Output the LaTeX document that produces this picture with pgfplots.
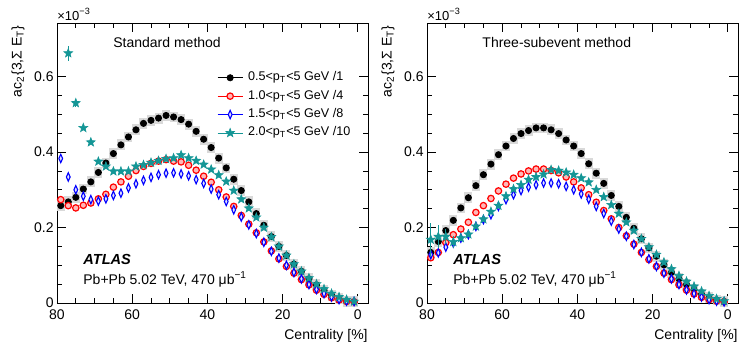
\documentclass[border=0pt]{standalone}
\usepackage{pgfplots}
\pgfplotsset{compat=1.18}
\usepackage{pgfplotstable}
\usepackage{fontspec}
\setmainfont{Liberation Sans}
\usetikzlibrary{plotmarks}

\definecolor{atlcyan}{RGB}{20,150,150}

% filled five-pointed star (ROOT marker 29)
\pgfdeclareplotmark{fstar}{%
  \pgfpathmoveto{\pgfpointpolar{90}{\pgfplotmarksize}}%
  \pgfpathlineto{\pgfpointpolar{126}{0.42\pgfplotmarksize}}%
  \pgfpathlineto{\pgfpointpolar{162}{\pgfplotmarksize}}%
  \pgfpathlineto{\pgfpointpolar{198}{0.42\pgfplotmarksize}}%
  \pgfpathlineto{\pgfpointpolar{234}{\pgfplotmarksize}}%
  \pgfpathlineto{\pgfpointpolar{270}{0.42\pgfplotmarksize}}%
  \pgfpathlineto{\pgfpointpolar{306}{\pgfplotmarksize}}%
  \pgfpathlineto{\pgfpointpolar{342}{0.42\pgfplotmarksize}}%
  \pgfpathlineto{\pgfpointpolar{18}{\pgfplotmarksize}}%
  \pgfpathlineto{\pgfpointpolar{54}{0.42\pgfplotmarksize}}%
  \pgfpathclose
  \pgfusepathqfillstroke}

% standard method
\pgfplotstableread{
c   blk   red   blu   cyn   ecyn
79  0.258 0.274 0.383 nan   0
77  0.268 0.258 0.334 0.662 0.02
75  0.280 0.252 0.300 0.530 0.01
73  0.302 0.259 0.283 0.464 0
71  0.321 0.265 0.274 0.426 0
69  0.346 0.276 0.270 0.375 0
67  0.371 0.288 0.276 0.362 0
65  0.396 0.307 0.285 0.349 0
63  0.419 0.321 0.291 0.349 0
61  0.440 0.336 0.305 0.349 0
59  0.459 0.351 0.316 0.362 0
57  0.476 0.362 0.325 0.366 0
55  0.484 0.370 0.333 0.372 0
53  0.490 0.376 0.340 0.377 0
51  0.497 0.380 0.344 0.382 0
49  0.493 0.376 0.345 0.384 0
47  0.486 0.374 0.342 0.392 0
45  0.474 0.365 0.337 0.384 0
43  0.455 0.352 0.327 0.377 0
41  0.434 0.336 0.317 0.367 0
39  0.412 0.320 0.302 0.354 0
37  0.384 0.300 0.287 0.339 0
35  0.358 0.281 0.269 0.322 0
33  0.328 0.256 0.247 0.298 0
31  0.298 0.232 0.228 0.275 0
29  0.268 0.209 0.207 0.251 0
27  0.237 0.186 0.184 0.227 0
25  0.206 0.162 0.161 0.200 0
23  0.176 0.138 0.137 0.175 0
21  0.150 0.117 0.119 0.150 0
19  0.126 0.097 0.100 0.126 0
17  0.103 0.079 0.081 0.103 0
15  0.084 0.062 0.064 0.084 0
13  0.064 0.048 0.049 0.066 0
11  0.048 0.034 0.036 0.050 0
9   0.033 0.023 0.025 0.037 0
7   0.020 0.014 0.016 0.025 0
5   0.011 0.008 0.009 0.016 0
3   0.005 0.004 0.005 0.009 0
1   0.003 0.003 0.004 0.004 0
}\stdtab

% three-subevent method
\pgfplotstableread{
c   blk   red   blu   cyn   ecyn
79  0.134 0.120 0.128 0.168 0.045
77  0.163 0.134 0.133 0.176 0.030
75  0.192 0.160 0.148 0.176 0.020
73  0.219 0.181 0.159 0.162 0.015
71  0.252 0.196 0.172 0.172 0.008
69  0.279 0.214 0.181 0.182 0
67  0.311 0.240 0.203 0.203 0
65  0.340 0.258 0.221 0.222 0
63  0.368 0.277 0.234 0.242 0
61  0.393 0.297 0.256 0.258 0
59  0.416 0.315 0.274 0.283 0
57  0.436 0.331 0.287 0.302 0
55  0.449 0.342 0.298 0.313 0
53  0.457 0.350 0.307 0.327 0
51  0.464 0.355 0.313 0.334 0
49  0.464 0.355 0.318 0.341 0
47  0.459 0.351 0.318 0.353 0
45  0.449 0.345 0.316 0.351 0
43  0.432 0.334 0.309 0.346 0
41  0.416 0.321 0.300 0.340 0
39  0.396 0.305 0.289 0.331 0
37  0.369 0.287 0.275 0.320 0
35  0.344 0.267 0.256 0.300 0
33  0.317 0.245 0.237 0.281 0
31  0.285 0.223 0.217 0.260 0
29  0.256 0.200 0.196 0.237 0
27  0.227 0.178 0.177 0.214 0
25  0.198 0.156 0.155 0.192 0
23  0.170 0.134 0.134 0.170 0
21  0.146 0.115 0.117 0.148 0
19  0.124 0.097 0.097 0.128 0
17  0.101 0.079 0.079 0.108 0
15  0.081 0.062 0.064 0.090 0
13  0.064 0.048 0.049 0.072 0
11  0.049 0.034 0.035 0.057 0
9   0.035 0.024 0.025 0.044 0
7   0.023 0.015 0.016 0.031 0
5   0.014 0.009 0.009 0.019 0
3   0.008 0.005 0.005 0.011 0
1   0.004 0.003 0.003 0.005 0
}\subtab

\pgfplotsset{
  atlasax/.style={
    width=155.5pt, height=140pt, scale only axis,
    x dir=reverse, xmin=-2.7, xmax=80, ymin=0, ymax=0.742,
    xtick={0,20,40,60,80}, minor x tick num=3,
    ytick={0,0.2,0.4,0.6}, minor y tick num=3,
    tick align=inside, major tick length=4.5pt, minor tick length=2.5pt,
    tick style={black, line width=0.4pt},
    /pgf/number format/assume math mode=true,
    tick label style={font=\fontsize{7}{8}\selectfont},
    yticklabel style={inner xsep=1.5pt},
    xlabel={Centrality [\%]},
    xlabel style={at={(axis description cs:1,0)}, anchor=north east,
      inner sep=0pt, yshift=-13pt, font=\fontsize{7}{8}\selectfont},
    ylabel={ac\textsubscript{2}\{3,Σ E\textsubscript{T}\}},
    ylabel style={at={(axis description cs:-0.103,0.992)}, anchor=south east,
      inner sep=0pt, font=\fontsize{7}{8}\selectfont},
    clip mode=individual,
    legend image code/.code={\draw[#1, sharp plot, mark repeat=2, mark phase=2]
      plot coordinates {(0pt,0pt) (6.25pt,0pt) (12.5pt,0pt)};},
  },
  sysbox/.style={only marks, mark=square*, mark size=1.75pt, color=gray!30,
    mark options={draw=gray!30, fill=gray!30, line width=0pt, yscale=1.4}, forget plot},
  blkser/.style={only marks, color=black, mark=*, mark size=1.55pt},
  redser/.style={only marks, color=red, mark=*, mark size=1.6pt,
    mark options={draw=red, fill=red!28, line width=0.6pt}},
  bluser/.style={only marks, color=blue, mark=diamond*, mark size=2.1pt,
    mark options={draw=blue, fill=blue!12, line width=0.55pt, xscale=0.6}},
  cynser/.style={only marks, color=atlcyan, mark=fstar, mark size=2.3pt,
    mark options={draw=atlcyan, fill=atlcyan, line width=0.3pt},
    error bars/.cd, y dir=both, y explicit, error mark=none,
    error bar style={atlcyan, line width=0.5pt}},
}

\begin{document}
\begin{tikzpicture}
\path[use as bounding box] (-28.5pt,-23pt) rectangle (345pt,151.5pt);

\begin{axis}[atlasax, name=L, at={(0pt,0pt)},
    legend style={at={(axis description cs:0.514,0.838)}, anchor=north west,
      draw=none, fill=none, inner sep=0pt, row sep=0.2pt,
      font=\fontsize{6.3}{7.5}\selectfont,
      nodes={inner sep=1pt, text height=5pt, text depth=2pt}},
    legend cell align=left]
  \addplot[sysbox] table[x=c, y=blk] {\stdtab};
  \addplot[blkser] table[x=c, y=blk] {\stdtab};
  \addlegendentry{\hspace{1.5pt}0.5<p\textsubscript{T}<5 GeV /1}
  \addplot[redser] table[x=c, y=red] {\stdtab};
  \addlegendentry{\hspace{1.5pt}1.0<p\textsubscript{T}<5 GeV /4}
  \addplot[bluser] table[x=c, y=blu] {\stdtab};
  \addlegendentry{\hspace{1.5pt}1.5<p\textsubscript{T}<5 GeV /8}
  \addplot[cynser] table[x=c, y=cyn, y error=ecyn] {\stdtab};
  \addlegendentry{\hspace{1.5pt}2.0<p\textsubscript{T}<5 GeV /10}
  \node[anchor=west, inner sep=0pt, font=\fontsize{7}{8}\selectfont]
    at (axis description cs:0.18,0.932) {Standard method};
  \node[anchor=west, inner sep=0pt, font=\fontsize{7.3}{8}\selectfont\bfseries\itshape]
    at (axis description cs:0.0836,0.157) {ATLAS};
  \node[anchor=west, inner sep=0pt, font=\fontsize{7}{8}\selectfont]
    at (axis description cs:0.0836,0.086) {Pb+Pb 5.02 TeV, 470 μb\textsuperscript{−1}};
  \node[anchor=base west, inner sep=0pt, yshift=1.5pt, font=\fontsize{6.5}{7}\selectfont]
    at (axis description cs:0,1) {×10\textsuperscript{−3}};
\end{axis}

\begin{axis}[atlasax, name=R, at={(185pt,0pt)}]
  \addplot[sysbox] table[x=c, y=blk] {\subtab};
  \addplot[blkser] table[x=c, y=blk] {\subtab};
  \addplot[redser] table[x=c, y=red] {\subtab};
  \addplot[bluser] table[x=c, y=blu] {\subtab};
  \addplot[cynser] table[x=c, y=cyn, y error=ecyn] {\subtab};
  \node[anchor=west, inner sep=0pt, font=\fontsize{7}{8}\selectfont]
    at (axis description cs:0.177,0.932) {Three-subevent method};
  \node[anchor=west, inner sep=0pt, font=\fontsize{7.3}{8}\selectfont\bfseries\itshape]
    at (axis description cs:0.0836,0.157) {ATLAS};
  \node[anchor=west, inner sep=0pt, font=\fontsize{7}{8}\selectfont]
    at (axis description cs:0.0836,0.086) {Pb+Pb 5.02 TeV, 470 μb\textsuperscript{−1}};
  \node[anchor=base west, inner sep=0pt, yshift=1.5pt, font=\fontsize{6.5}{7}\selectfont]
    at (axis description cs:0,1) {×10\textsuperscript{−3}};
\end{axis}
\end{tikzpicture}
\end{document}
